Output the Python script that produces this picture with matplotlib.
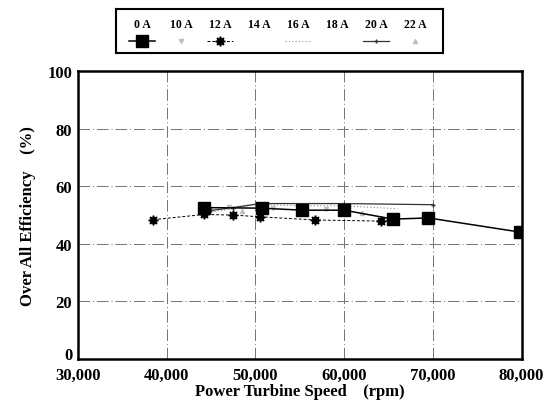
import numpy as np
import matplotlib.pyplot as plt
from matplotlib.ticker import FuncFormatter

plt.rcParams['font.family'] = ['Liberation Serif', 'DejaVu Serif']

# data (rpm, %)
rpm_0a = [44200, 50700, 55300, 60000, 65500, 69500, 79800]
eff_0a = [52.6, 52.4, 51.7, 51.7, 48.6, 49.0, 44.1]

rpm_10a = [44500, 47000, 52000, 58000]
eff_10a = [52.0, 52.8, 52.5, 52.0]

rpm_12a = [38500, 44200, 47500, 50500, 56700, 64100, 65500]
eff_12a = [48.4, 50.2, 50.0, 49.4, 48.3, 47.9, 48.4]

rpm_16a = [45000, 50000, 55000, 60000, 66000]
eff_16a = [51.0, 53.6, 53.3, 53.2, 52.2]

rpm_20a = [45000, 47500, 50500, 60000, 70000]
eff_20a = [51.6, 52.6, 54.0, 54.0, 53.6]

rpm_22a = [48500, 62000]
eff_22a = [51.5, 50.6]

labels = ["0 A", "10 A", "12 A", "14 A", "16 A", "18 A", "20 A", "22 A"]

star = (8, 1, 0)
styles = {
    "0 A": dict(color="black", lw=1.1, ls="-", marker="s", ms=8.5),
    "10 A": dict(color="0.75", lw=0, ls="none", marker="v", ms=3),
    "12 A": dict(color="black", lw=0.7, ls=(0, (3, 2)), marker=star, ms=7),
    "14 A": dict(color="white", lw=0, ls="none", marker=None),
    "16 A": dict(color="0.55", lw=0.8, ls=(0, (1, 2)), marker=None),
    "18 A": dict(color="white", lw=0, ls="none", marker=None),
    "20 A": dict(color="0.2", lw=0.9, ls="-", marker="+", ms=3),
    "22 A": dict(color="0.75", lw=0, ls="none", marker="^", ms=3),
}

fig = plt.figure(figsize=(5.52, 4.1), dpi=100)
ax = fig.add_axes([0.141, 0.122, 0.804, 0.702])

ax.plot(rpm_16a, eff_16a, **styles["16 A"])
ax.plot(rpm_20a, eff_20a, **styles["20 A"])
ax.plot(rpm_10a, eff_10a, **styles["10 A"])
ax.plot(rpm_22a, eff_22a, **styles["22 A"])
ax.plot(rpm_12a, eff_12a, **styles["12 A"])
ax.plot(rpm_0a, eff_0a, **styles["0 A"])

ax.set_xlim(30000, 80000)
ax.set_ylim(0, 100)
ax.set_xticks([30000, 40000, 50000, 60000, 70000, 80000])
ax.set_yticks([0, 20, 40, 60, 80, 100])
ax.xaxis.set_major_formatter(FuncFormatter(lambda v, p: f"{int(v):,}"))
ax.tick_params(length=0, labelsize=12)
ax.tick_params(axis="x", pad=6)
ax.tick_params(axis="y", pad=4)
for lab in ax.get_xticklabels() + ax.get_yticklabels():
    lab.set_fontweight("bold")
# the "0" sits just above the first x label
ax.get_yticklabels()[0].set_verticalalignment("baseline")

for y in [20, 40, 60, 80]:
    ax.axhline(y, color="0.45", lw=0.7, ls=(0, (12, 3, 1, 3)), zorder=0)
for x in [40000, 50000, 60000, 70000]:
    ax.axvline(x, color="0.45", lw=0.7, ls=(0, (12, 3, 1, 3)), zorder=0)

for s in ax.spines.values():
    s.set_linewidth(1.8)

ax.set_xlabel("Power Turbine Speed    (rpm)", fontsize=12, fontweight="bold", labelpad=0)
ax.set_ylabel("Over All Efficiency    (%)", fontsize=12, fontweight="bold", labelpad=8)

# legend: labels above the handles, in a box on top
lax = fig.add_axes([0.210, 0.868, 0.592, 0.107])
lax.set_xlim(0, 8)
lax.set_ylim(0, 1)
lax.set_xticks([])
lax.set_yticks([])
for s in lax.spines.values():
    s.set_linewidth(1.5)
for i, lab in enumerate(labels):
    cx = 0.64 + 0.954 * i
    lax.text(cx, 0.66, lab, ha="center", va="center", fontsize=8.5, fontweight="bold")
    st = dict(styles[lab])
    lax.plot([cx - 0.32, cx + 0.32], [0.27, 0.27], color=st["color"], lw=st["lw"], ls=st["ls"])
    if st.get("marker"):
        lax.plot([cx], [0.27], color=st["color"], marker=st["marker"], ms=st["ms"], ls="none")

fig.savefig("out.png", dpi=100)
